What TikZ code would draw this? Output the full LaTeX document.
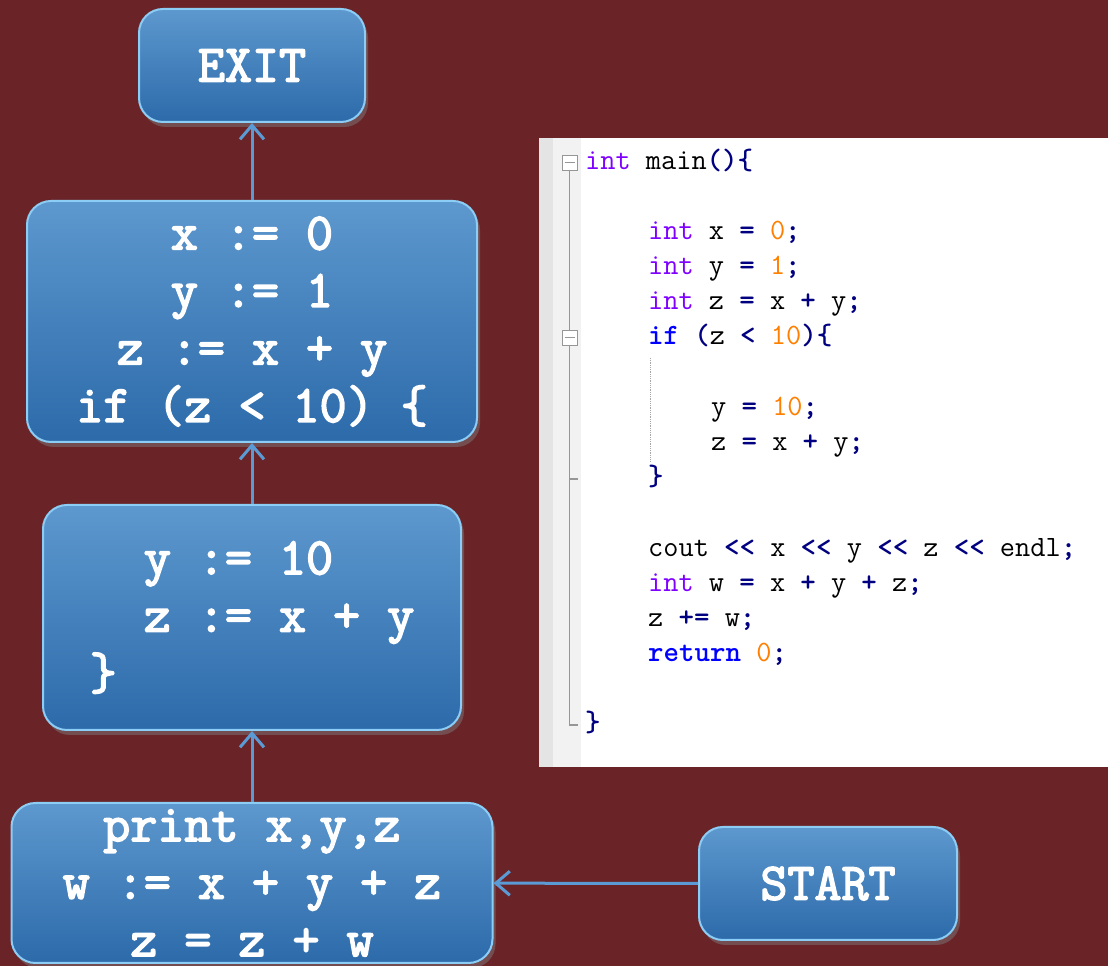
\documentclass[tikz,border=0pt]{standalone}
\usepackage{fontspec}
\newfontfamily\boxfont{Latin Modern Mono}[FakeBold=3]
\usetikzlibrary{arrows.meta,shadows}

\definecolor{slidebg}{RGB}{106,36,40}
\definecolor{boxtop}{RGB}{93,152,206}
\definecolor{boxbot}{RGB}{44,106,170}
\definecolor{boxrim}{RGB}{140,205,245}
\definecolor{flowblue}{RGB}{91,155,213}
\definecolor{ctype}{RGB}{128,0,255}
\definecolor{cnum}{RGB}{255,128,0}
\definecolor{cop}{RGB}{0,0,128}
\definecolor{cins}{RGB}{0,0,255}
\definecolor{gutter}{RGB}{228,228,228}
\definecolor{foldgray}{RGB}{150,150,150}

\newcommand{\codety}[1]{\textcolor{ctype}{#1}}
\newcommand{\codenm}[1]{\textcolor{cnum}{#1}}
\newcommand{\codeop}[1]{\textcolor{cop}{\bfseries #1}}
\newcommand{\codekw}[1]{\textcolor{cins}{\bfseries #1}}

\begin{document}
\begin{tikzpicture}[x=1pt,y=1pt,
  block/.style={rounded corners=24pt,draw=boxrim,line width=2pt,
    top color=boxtop,bottom color=boxbot,text=white,inner sep=0pt,
    font=\fontsize{52.5}{57.5}\selectfont\boxfont,
    drop shadow={shadow xshift=3pt,shadow yshift=-5pt,opacity=0.45}},
  flow/.style={draw=flowblue,line width=3pt,-{Straight Barb[length=14pt,width=24pt]}},
  codeline/.style={anchor=west,inner sep=0pt,text height=19pt,text depth=6pt,
    font=\fontsize{29.5}{35}\selectfont\ttfamily},
  foldbox/.style={draw=foldgray,fill=white,line width=1pt,minimum size=15pt,inner sep=0pt}]
  \fill[slidebg] (0,0) rectangle (1108,966);
  \useasboundingbox (0,0) rectangle (1108,966);

  % code panel
  \fill[white] (539,199) rectangle (1108,828);
  \fill[gutter] (539,199) rectangle (553,828);
  \fill[black!5] (553,199) rectangle (581,828);
  \draw[foldgray,line width=1.5pt] (569.5,795) -- (569.5,241) -- (578,241);
  \draw[foldgray,line width=1.5pt] (569.5,487) -- (578,487);
  \draw[black!35,densely dotted,line width=0.8pt] (650,608) -- (650,504);
  \node[foldbox] (f1) at (569.5,803) {};
  \node[foldbox] (f2) at (569.5,628) {};
  \draw[foldgray,line width=1pt] ([xshift=3pt]f1.west) -- ([xshift=-3pt]f1.east);
  \draw[foldgray,line width=1pt] ([xshift=3pt]f2.west) -- ([xshift=-3pt]f2.east);

  \node[codeline] (c0) at (585,803) {\codety{int} main\codeop{()\{}};
  \node[codeline] (c1) at (648,733) {\codety{int} x \codeop{=} \codenm{0}\codeop{;}};
  \node[codeline] (c2) at (648,698) {\codety{int} y \codeop{=} \codenm{1}\codeop{;}};
  \node[codeline] (c3) at (648,663) {\codety{int} z \codeop{=} x \codeop{+} y\codeop{;}};
  \node[codeline] (c4) at (648,628) {\codekw{if} \codeop{(}z \codeop{<} \codenm{10}\codeop{)\{}};
  \node[codeline] (c5) at (711,557) {y \codeop{=} \codenm{10}\codeop{;}};
  \node[codeline] (c6) at (711,522) {z \codeop{=} x \codeop{+} y\codeop{;}};
  \node[codeline] (c7) at (648,487) {\codeop{\}}};
  \node[codeline] (c8) at (648,416) {cout \codeop{<<} x \codeop{<<} y \codeop{<<} z \codeop{<<} endl\codeop{;}};
  \node[codeline] (c9) at (648,381) {\codety{int} w \codeop{=} x \codeop{+} y \codeop{+} z\codeop{;}};
  \node[codeline] (c10) at (648,346) {z \codeop{+=} w\codeop{;}};
  \node[codeline] (c11) at (648,311) {\codekw{return} \codenm{0}\codeop{;}};
  \node[codeline] (c12) at (585,241) {\codeop{\}}};

  % flow graph
  \node[block,minimum width=226pt,minimum height=113pt] (exit) at (252,900.5) {EXIT};
  \node[block,minimum width=450pt,minimum height=241pt,align=center] (entry) at (252,644.5)
    {x := 0\\y := 1\\z := x + y\\if (z < 10) \{};
  \node[block,minimum width=418pt,minimum height=225pt,align=left] (body) at (252,348.5)
    {\hphantom{yy}y := 10\\\hphantom{yy}z := x + y\hspace*{13pt}\\\}};
  \node[block,minimum width=481pt,minimum height=160pt,align=center] (tail) at (252,83)
    {print x,y,z\\w := x + y + z\\z = z + w};
  \node[block,minimum width=258pt,minimum height=113pt] (start) at (828,82.5) {START};

  \draw[flow] (entry) -- (exit);
  \draw[flow] (body) -- (entry);
  \draw[flow] (tail) -- (body);
  \draw[flow] (start) -- (tail);
\end{tikzpicture}
\end{document}
